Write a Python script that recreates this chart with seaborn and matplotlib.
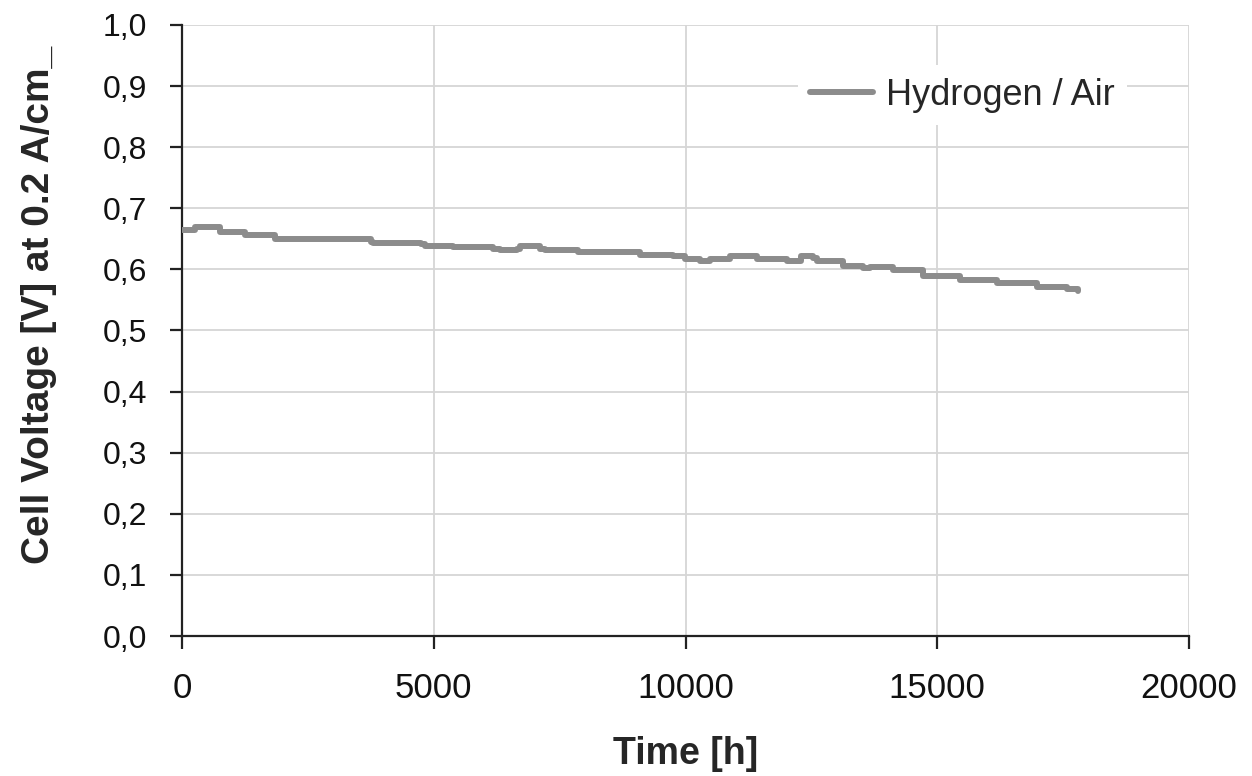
import matplotlib
matplotlib.use("Agg")
import matplotlib.pyplot as plt
import seaborn as sns
import pandas as pd

time_h = [0, 260, 760, 1250, 1350, 1850, 2150, 3750, 3800, 4750, 4830, 5330, 5380,
          6180, 6320, 6650, 6710, 7110, 7210, 7710, 7860, 9100, 9750, 9990, 10290,
          10490, 10880, 11420, 12020, 12300, 12540, 12610, 13130, 13520, 13660, 14120,
          14720, 15450, 16190, 16980, 17580, 17800]
voltage = [0.664, 0.669, 0.661, 0.656, 0.656, 0.649, 0.649, 0.645, 0.643, 0.641, 0.639,
           0.638, 0.636, 0.633, 0.631, 0.634, 0.638, 0.634, 0.631, 0.632, 0.628, 0.624,
           0.622, 0.617, 0.614, 0.617, 0.622, 0.617, 0.614, 0.622, 0.618, 0.614, 0.606,
           0.603, 0.604, 0.599, 0.589, 0.583, 0.578, 0.571, 0.568, 0.564]
series_name = "Hydrogen / Air"
x_ticks = [0, 5000, 10000, 15000, 20000]
y_ticks = [0.0, 0.1, 0.2, 0.3, 0.4, 0.5, 0.6, 0.7, 0.8, 0.9, 1.0]
y_tick_labels = ["0,0", "0,1", "0,2", "0,3", "0,4", "0,5", "0,6", "0,7", "0,8", "0,9", "1,0"]

df = pd.DataFrame({"Time": time_h, "Voltage": voltage, "Series": series_name})

sns.set_style("white")
plt.rcParams["font.family"] = ["Liberation Sans", "DejaVu Sans"]

fig = plt.figure(figsize=(12.52, 7.76), dpi=100)
ax = fig.add_axes([0.1454, 0.1804, 0.8043, 0.7874])

sns.lineplot(data=df, x="Time", y="Voltage", hue="Series", palette=["#8c8c8c"],
             linewidth=4.3, drawstyle="steps-post", ax=ax, zorder=3)

ax.set_xlim(0, 20000)
ax.set_ylim(0, 1.0)
ax.set_xticks(x_ticks)
ax.set_xticklabels([str(t) for t in x_ticks])
ax.set_yticks(y_ticks)
ax.set_yticklabels(y_tick_labels)
ax.grid(True, color="#d6d6d6", linewidth=1.3)
ax.set_axisbelow(True)

for s in ["top", "right"]:
    ax.spines[s].set_visible(False)
for s in ["left", "bottom"]:
    ax.spines[s].set_color("#222222")
    ax.spines[s].set_linewidth(1.6)

ax.tick_params(axis="both", which="major", bottom=True, left=True, direction="out",
               length=9, width=1.6, color="#222222", labelcolor="#111111")
ax.tick_params(axis="y", pad=16, labelsize=23)
ax.tick_params(axis="x", pad=17, labelsize=25)

ax.set_xlabel("Time [h]", fontsize=27, fontweight="bold", labelpad=22)
ax.set_ylabel("Cell Voltage [V] at 0.2 A/cm_", fontsize=28, fontweight="bold")
ax.yaxis.set_label_coords(-0.124, 0.542)

leg = ax.legend(loc="center", bbox_to_anchor=(0.775, 0.885), frameon=True,
                fontsize=26, handlelength=1.75, handletextpad=0.35, borderpad=0.35)
leg.get_frame().set_edgecolor("none")
leg.get_frame().set_facecolor("white")
leg.get_frame().set_alpha(1)

fig.savefig("out.png", dpi=100)
